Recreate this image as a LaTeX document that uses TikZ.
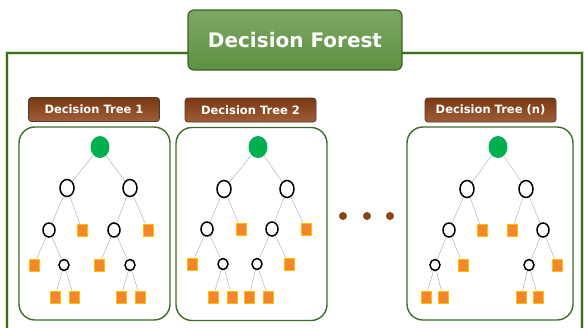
\documentclass[tikz,border=0pt]{standalone}
\usepackage{fontspec}
\setmainfont{DejaVu Sans}
\usetikzlibrary{shapes.geometric}
\definecolor{framegreen}{HTML}{3F6B24}
\definecolor{glowgreen}{HTML}{D2EBC0}
\definecolor{titlegreen}{HTML}{5E9140}
\definecolor{titleedge}{HTML}{3B6324}
\definecolor{labelbrown}{HTML}{8E4214}
\definecolor{labeledge}{HTML}{4E3A2E}
\definecolor{rootgreen}{HTML}{00B050}
\definecolor{leaforange}{HTML}{F5852C}
\definecolor{leafedge}{HTML}{FFC000}
\definecolor{edgegray}{HTML}{A8A8A8}
\tikzstyle{title} = [rectangle, rounded corners=6pt, minimum width=214pt,
minimum height=60pt, draw=titleedge, line width=1.2pt, top color=titlegreen!80!white,
bottom color=titlegreen, text=white, font=\bfseries\fontsize{20}{24}\selectfont]
\tikzstyle{treelabel} = [rectangle, rounded corners=3pt, minimum width=131pt,
minimum height=24pt, draw=labeledge, line width=0.8pt, top color=labelbrown!85!black,
bottom color=labelbrown!85!white, text=white, font=\bfseries\fontsize{11.5}{13}\selectfont]
\tikzstyle{panel} = [rectangle, rounded corners=16pt, minimum height=193pt,
draw=framegreen, line width=1.4pt]
\tikzstyle{root} = [ellipse, minimum width=19pt, minimum height=22pt, inner sep=0pt,
fill=rootgreen]
\tikzstyle{bignode} = [ellipse, minimum width=14pt, minimum height=17pt, inner sep=0pt,
draw=black, line width=1.5pt, fill=white]
\tikzstyle{midnode} = [ellipse, minimum width=12pt, minimum height=14pt, inner sep=0pt,
draw=black, line width=1.5pt, fill=white]
\tikzstyle{smallnode} = [ellipse, minimum width=10pt, minimum height=11pt, inner sep=0pt,
draw=black, line width=1.5pt, fill=white]
\tikzstyle{leaf} = [rectangle, minimum width=10pt, minimum height=12pt, inner sep=0pt,
draw=leafedge, line width=0.6pt, fill=leaforange]
\tikzstyle{edge} = [draw=edgegray, line width=0.4pt]
\tikzstyle{dot} = [circle, minimum size=8pt, inner sep=0pt, fill=labelbrown]

\begin{document}
\begin{tikzpicture}[x=1pt, y=-1pt]
              \useasboundingbox (0,0) rectangle (584,327);
              \clip (0,0) rectangle (584,327);
              % outer frame
              \draw [glowgreen, line width=4pt] (7,53) rectangle (582,345);
              \draw [framegreen, line width=1.4pt] (7,53) rectangle (582,345);
              \node (forest) [title] at (295,40) {Decision Forest};

              % panels and labels
              \node (panel1) [panel, minimum width=151pt] at (94.5,223.5) {};
              \node (panel2) [panel, minimum width=151pt] at (251.5,224) {};
              \node (paneln) [panel, minimum width=166pt] at (490,223.5) {};
              \node (label1) [treelabel] at (94,109.5) {Decision Tree 1};
              \node (label2) [treelabel] at (250.5,110) {Decision Tree 2};
              \node (labeln) [treelabel] at (490.5,110) {Decision Tree (n)};

              % tree 1
              \node (a0) [root] at (100,147) {};
              \node (a1) [bignode] at (67,188) {};
              \node (a2) [bignode] at (130,188) {};
              \node (a11) [midnode] at (49,230) {};
              \node (a12) [leaf] at (82,230) {};
              \node (a21) [midnode] at (114,230) {};
              \node (a22) [leaf] at (148,230) {};
              \node (a111) [leaf] at (34,265) {};
              \node (a112) [smallnode] at (64,265) {};
              \node (a211) [leaf] at (99,265) {};
              \node (a212) [smallnode] at (130,265) {};
              \node (a1121) [leaf] at (55,297) {};
              \node (a1122) [leaf] at (74,297) {};
              \node (a2121) [leaf] at (121,297) {};
              \node (a2122) [leaf] at (140,297) {};
              \draw [edge] (a0) -- (a1);
              \draw [edge] (a0) -- (a2);
              \draw [edge] (a1) -- (a11);
              \draw [edge] (a1) -- (a12);
              \draw [edge] (a2) -- (a21);
              \draw [edge] (a2) -- (a22);
              \draw [edge] (a11) -- (a111);
              \draw [edge] (a11) -- (a112);
              \draw [edge] (a21) -- (a211);
              \draw [edge] (a21) -- (a212);
              \draw [edge] (a112) -- (a1121);
              \draw [edge] (a112) -- (a1122);
              \draw [edge] (a212) -- (a2121);
              \draw [edge] (a212) -- (a2122);

              % tree 2
              \node (b0) [root] at (258,147) {};
              \node (b1) [bignode] at (224,189) {};
              \node (b2) [bignode] at (287,189) {};
              \node (b11) [midnode] at (207,229) {};
              \node (b12) [leaf] at (241,229) {};
              \node (b21) [midnode] at (272,229) {};
              \node (b22) [leaf] at (306,229) {};
              \node (b111) [leaf] at (192,264) {};
              \node (b112) [smallnode] at (223,264) {};
              \node (b211) [smallnode] at (257,264) {};
              \node (b212) [leaf] at (289,264) {};
              \node (b1121) [leaf] at (213,297) {};
              \node (b1122) [leaf] at (232,297) {};
              \node (b2111) [leaf] at (249,297) {};
              \node (b2112) [leaf] at (268,297) {};
              \draw [edge] (b0) -- (b1);
              \draw [edge] (b0) -- (b2);
              \draw [edge] (b1) -- (b11);
              \draw [edge] (b1) -- (b12);
              \draw [edge] (b2) -- (b21);
              \draw [edge] (b2) -- (b22);
              \draw [edge] (b11) -- (b111);
              \draw [edge] (b11) -- (b112);
              \draw [edge] (b21) -- (b211);
              \draw [edge] (b21) -- (b212);
              \draw [edge] (b112) -- (b1121);
              \draw [edge] (b112) -- (b1122);
              \draw [edge] (b211) -- (b2111);
              \draw [edge] (b211) -- (b2112);

              % ellipsis
              \node (dot1) [dot] at (343,216) {};
              \node (dot2) [dot] at (367,216) {};
              \node (dot3) [dot] at (390,216) {};

              % tree n
              \node (c0) [root] at (498,147) {};
              \node (c1) [bignode] at (467,189) {};
              \node (c2) [bignode] at (526,189) {};
              \node (c11) [midnode] at (449,230) {};
              \node (c12) [leaf] at (482,230) {};
              \node (c21) [leaf] at (512,230) {};
              \node (c22) [midnode] at (543,230) {};
              \node (c111) [smallnode] at (435,265) {};
              \node (c112) [leaf] at (463,265) {};
              \node (c221) [smallnode] at (529,265) {};
              \node (c222) [leaf] at (557,265) {};
              \node (c1111) [leaf] at (426,297) {};
              \node (c1112) [leaf] at (443,297) {};
              \node (c2211) [leaf] at (521,297) {};
              \node (c2212) [leaf] at (538,297) {};
              \draw [edge] (c0) -- (c1);
              \draw [edge] (c0) -- (c2);
              \draw [edge] (c1) -- (c11);
              \draw [edge] (c1) -- (c12);
              \draw [edge] (c2) -- (c21);
              \draw [edge] (c2) -- (c22);
              \draw [edge] (c11) -- (c111);
              \draw [edge] (c11) -- (c112);
              \draw [edge] (c22) -- (c221);
              \draw [edge] (c22) -- (c222);
              \draw [edge] (c111) -- (c1111);
              \draw [edge] (c111) -- (c1112);
              \draw [edge] (c221) -- (c2211);
              \draw [edge] (c221) -- (c2212);
            \end{tikzpicture}
\end{document}
